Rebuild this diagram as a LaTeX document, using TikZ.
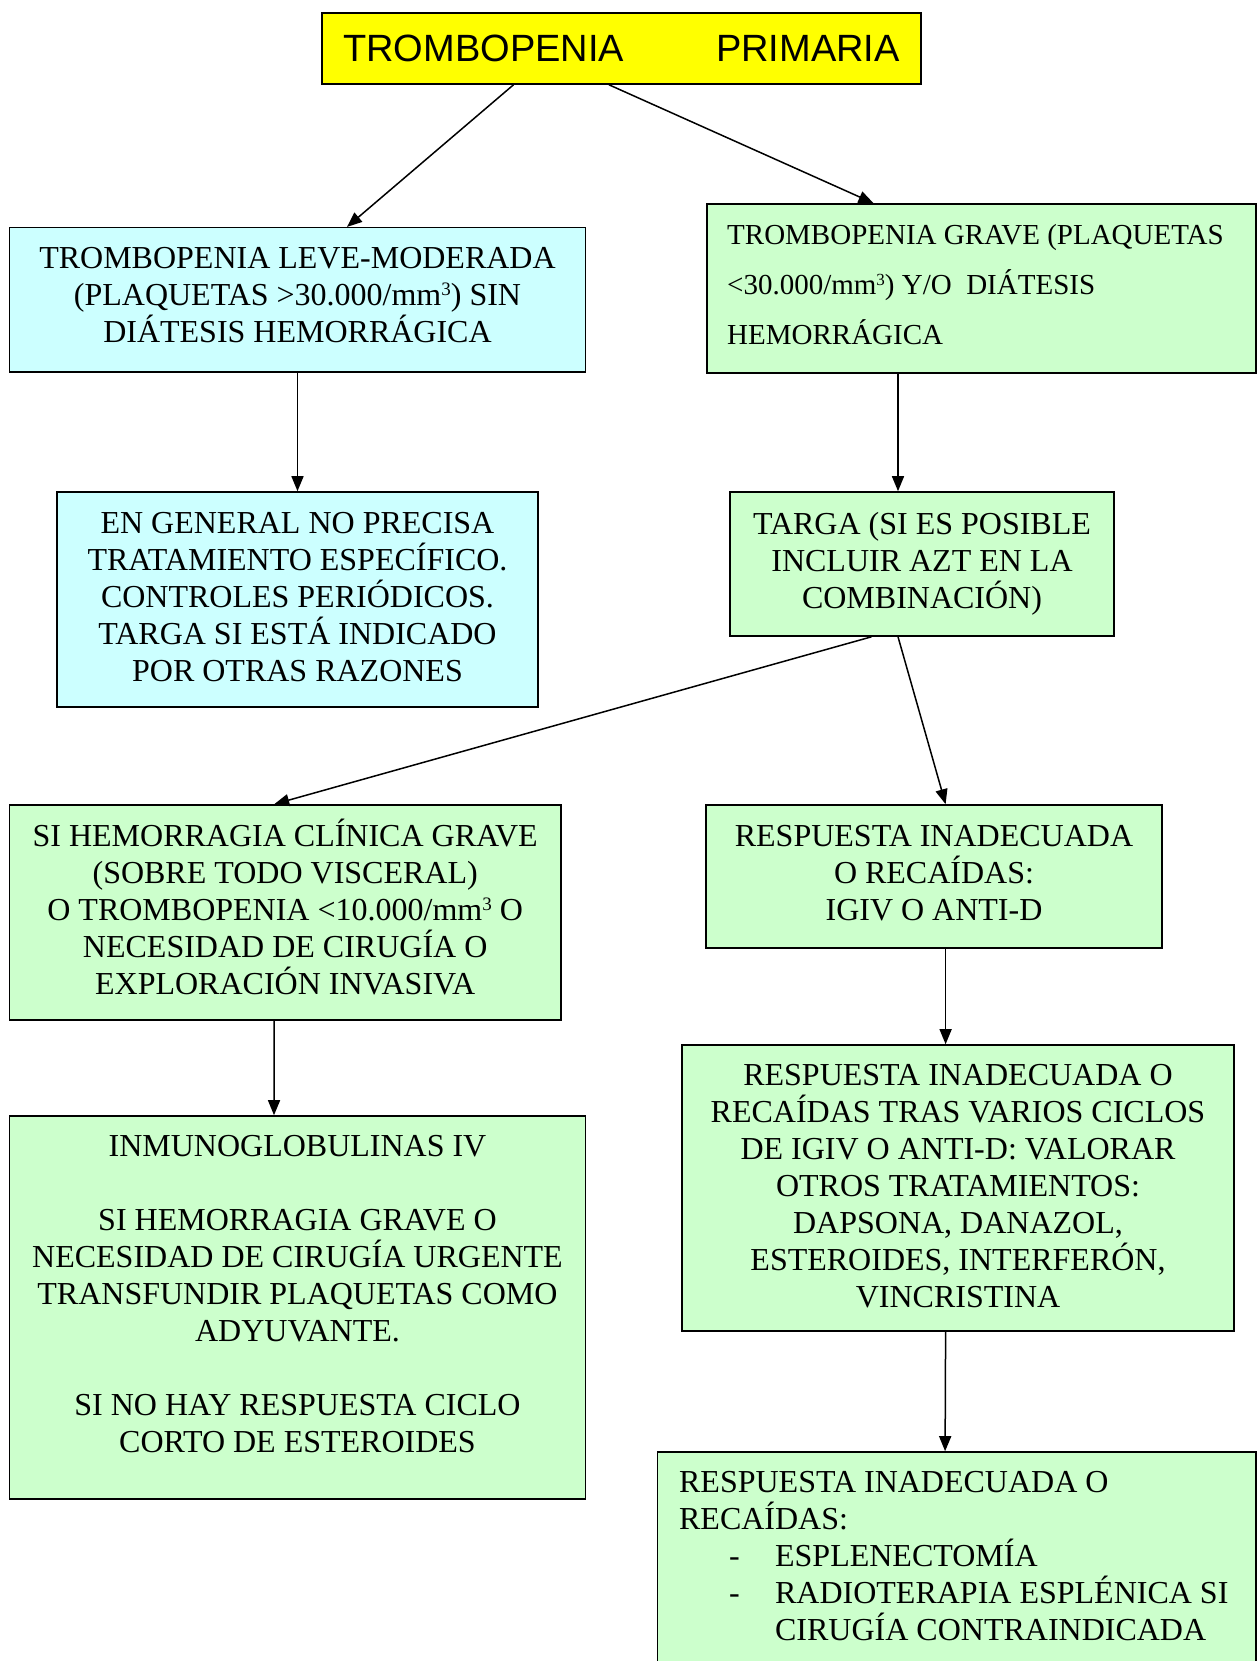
\documentclass[tikz,border=0pt]{standalone}
\usepackage{fontspec}
\setmainfont{Liberation Serif}
\newfontfamily\headfont{Liberation Sans}
\usetikzlibrary{arrows.meta}
\definecolor{boxyellow}{HTML}{FFFF00}
\definecolor{boxblue}{HTML}{CCFFFF}
\definecolor{boxgreen}{HTML}{CCFFCC}
% small raised "3" for mm^3
\newcommand\cubedmark[2]{\raisebox{#1}{\fontsize{#2}{#2}\selectfont 3}}
% extra depth below the last line, to lift a text block in its box
\newcommand\liftby[1]{\rule[-#1]{0pt}{0pt}}
\tikzset{
  card/.style={draw=black, line width=1.6pt, inner sep=0pt, align=center,
    font=\fontsize{32}{37}\selectfont},
  bluecard/.style={card, fill=boxblue},
  greencard/.style={card, fill=boxgreen},
  arr/.style={line width=1.5pt, -{Triangle[length=15pt,width=12pt]}}
}
\begin{document}
\begin{tikzpicture}[x=1pt,y=-1pt]
\useasboundingbox (0,0) rectangle (1258,1661);
\clip (0,0) rectangle (1258,1661);

% title
\node[card, fill=boxyellow, minimum width=599pt, minimum height=71pt,
      font=\headfont\fontsize{38}{44}\selectfont] (top) at (621.5,48.5)
  {TROMBOPENIA\hspace{92pt}PRIMARIA};

% left branch
\node[bluecard, minimum width=576pt, minimum height=144pt] (A) at (297.5,299.7)
  {TROMBOPENIA LEVE-MODERADA\\(PLAQUETAS >30.000/mm\cubedmark{10pt}{19}) SIN\\DIÁTESIS HEMORRÁGICA\liftby{10pt}};
\node[bluecard, minimum width=481pt, minimum height=215pt] (C) at (297.5,599.5)
  {EN GENERAL NO PRECISA\\TRATAMIENTO ESPECÍFICO.\\CONTROLES PERIÓDICOS.\\TARGA SI ESTÁ INDICADO\\POR OTRAS RAZONES\liftby{5pt}};

% right branch
\node[greencard, minimum width=549pt, minimum height=169pt, align=left,
      font=\fontsize{29}{50}\selectfont] (B) at (981.5,288.5)
  {TROMBOPENIA GRAVE (PLAQUETAS\hspace*{12pt}\mbox{}\\<30.000/mm\cubedmark{9pt}{17}) Y/O\ \ DIÁTESIS\\HEMORRÁGICA\liftby{8pt}};
\node[greencard, minimum width=384pt, minimum height=144pt] (D) at (922,564)
  {TARGA (SI ES POSIBLE\\INCLUIR AZT EN LA\\COMBINACIÓN)};

\node[greencard, minimum width=551.5pt, minimum height=215pt] (E) at (285.2,912.5)
  {SI HEMORRAGIA CLÍNICA GRAVE\\(SOBRE TODO VISCERAL)\\O TROMBOPENIA <10.000/mm\cubedmark{10pt}{19} O\\NECESIDAD DE CIRUGÍA O\\EXPLORACIÓN INVASIVA\liftby{12pt}};
\node[greencard, minimum width=456pt, minimum height=143pt] (F) at (934,876.5)
  {RESPUESTA INADECUADA\\O RECAÍDAS:\\IGIV O ANTI-D\liftby{7pt}};

\node[greencard, minimum width=576pt, minimum height=383pt] (G) at (297.5,1307.5)
  {INMUNOGLOBULINAS IV\\[37pt]SI HEMORRAGIA GRAVE O\\NECESIDAD DE CIRUGÍA URGENTE\\TRANSFUNDIR PLAQUETAS COMO\\ADYUVANTE.\\[37pt]SI NO HAY RESPUESTA CICLO\\CORTO DE ESTEROIDES\liftby{28pt}};
\node[greencard, minimum width=552pt, minimum height=286pt] (H) at (958,1188)
  {RESPUESTA INADECUADA O\\RECAÍDAS TRAS VARIOS CICLOS\\DE IGIV O ANTI-D: VALORAR\\OTROS TRATAMIENTOS:\\DAPSONA, DANAZOL,\\ESTEROIDES, INTERFERÓN,\\VINCRISTINA\liftby{4pt}};
\node[greencard, minimum width=598.4pt, minimum height=248pt, align=left] (I) at (956.8,1576)
  {RESPUESTA INADECUADA O\\RECAÍDAS:\\
   \hspace*{50pt}\makebox[46pt][l]{-}ESPLENECTOMÍA\\
   \hspace*{50pt}\makebox[46pt][l]{-}RADIOTERAPIA ESPLÉNICA SI\hspace*{6pt}\mbox{}\\
   \hspace*{96pt}CIRUGÍA CONTRAINDICADA\liftby{40pt}};

% connectors
\draw[arr] ([xshift=-108pt]top.south) -- ([xshift=49.5pt]A.north);
\draw[arr] ([xshift=-12.5pt]top.south) -- ([xshift=-108pt]B.north);
\draw[arr] (A.south) -- (C.north);
\draw[arr] ([xshift=-83.5pt]B.south) -- ([xshift=-24pt]D.north);
\draw[arr] ([xshift=-50.5pt]D.south) -- ([xshift=-11pt]E.north);
\draw[arr] ([xshift=-24pt]D.south) -- ([xshift=11.6pt]F.north);
\draw[arr] ([xshift=-11pt]E.south) -- ([xshift=-23.5pt]G.north);
\draw[arr] ([xshift=11.6pt]F.south) -- ([xshift=-12.4pt]H.north);
\draw[arr] ([xshift=-12.4pt]H.south) -- ([xshift=-11.7pt]I.north);
\end{tikzpicture}
\end{document}
